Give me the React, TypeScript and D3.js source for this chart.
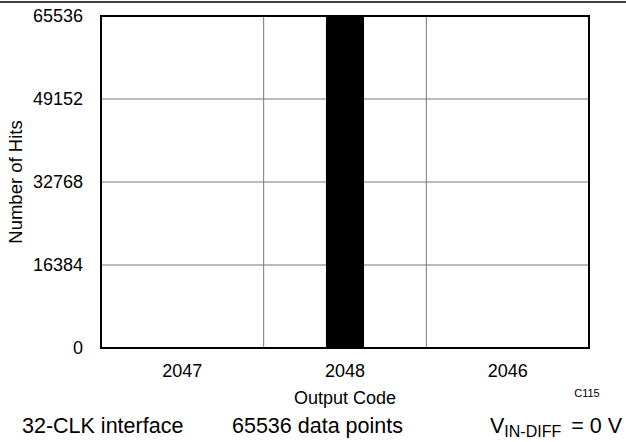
import React from "react";
import * as d3 from "d3";

const codes = ["2047", "2048", "2046"];
const hits = [0, 65536, 0];
const yTicks = [0, 16384, 32768, 49152, 65536];

const width = 626;
const height = 442;
const margin = { top: 16, right: 37, bottom: 94, left: 101 };
const boundedWidth = width - margin.left - margin.right;
const boundedHeight = height - margin.top - margin.bottom;

const xScale = d3.scaleBand().domain(codes).range([0, boundedWidth]);
const yScale = d3.scaleLinear().domain([0, 65536]).range([boundedHeight, 0]);
const barWidth = xScale.bandwidth() * 0.234;

const font = "'Liberation Sans', Arial, sans-serif";
const gridColor = "#777";

export default function App() {
  return (
    <div style={{ position: "absolute", left: 0, top: 0 }}>
      <svg width={width} height={height} style={{ display: "block", background: "#fff" }} fontFamily={font}>
        <line x1={0} x2={width} y1={2} y2={2} stroke="#000" strokeWidth={1.5} />
        <g transform={`translate(${margin.left},${margin.top})`}>
          {yTicks.slice(1, -1).map((t) => (
            <line key={t} x1={0} x2={boundedWidth} y1={yScale(t)} y2={yScale(t)} stroke={gridColor} strokeWidth={1} />
          ))}
          {codes.slice(1).map((c) => (
            <line key={c} x1={xScale(c)!} x2={xScale(c)!} y1={0} y2={boundedHeight} stroke={gridColor} strokeWidth={1} />
          ))}
          {codes.map((c, i) => (
            <rect
              key={c}
              x={xScale(c)! + xScale.bandwidth() / 2 - barWidth / 2}
              y={yScale(hits[i])}
              width={barWidth}
              height={boundedHeight - yScale(hits[i])}
              fill="#000"
            />
          ))}
          <rect x={0} y={0} width={boundedWidth} height={boundedHeight} fill="none" stroke="#000" strokeWidth={2} />
          {yTicks.map((t) => (
            <text key={t} x={-18} y={yScale(t)} dy="0.36em" textAnchor="end" fontSize={18}>
              {t}
            </text>
          ))}
          {codes.map((c) => (
            <text key={c} x={xScale(c)! + xScale.bandwidth() / 2} y={boundedHeight + 29} textAnchor="middle" fontSize={18}>
              {c}
            </text>
          ))}
          <text x={boundedWidth / 2} y={boundedHeight + 56} textAnchor="middle" fontSize={18}>
            Output Code
          </text>
          <text
            transform={`translate(${-margin.left + 22},${boundedHeight / 2}) rotate(-90)`}
            textAnchor="middle"
            fontSize={18.5}
          >
            Number of Hits
          </text>
        </g>
        <text x={587} y={397} textAnchor="middle" fontSize={11}>
          C115
        </text>
        <text x={22} y={433} fontSize={21.5}>
          32-CLK interface
        </text>
        <text x={232} y={433} fontSize={21.5}>
          65536 data points
        </text>
        <text x={622} y={433} textAnchor="end" fontSize={21.5}>
          V<tspan fontSize={16} dy={4}>IN-DIFF</tspan>
          <tspan dy={-4} dx={4}> = 0 V</tspan>
        </text>
      </svg>
    </div>
  );
}
